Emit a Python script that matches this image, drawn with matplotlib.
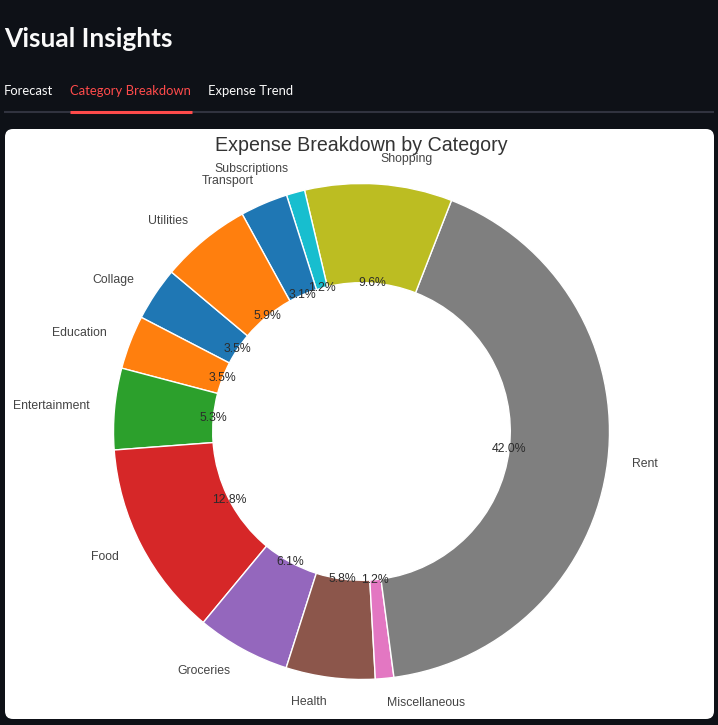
import matplotlib
matplotlib.use("Agg")
import matplotlib.pyplot as plt
from matplotlib.patches import FancyBboxPatch

categories = ["Collage", "Education", "Entertainment", "Food", "Groceries", "Health",
              "Miscellaneous", "Rent", "Shopping", "Subscriptions", "Transport", "Utilities"]
shares = [3.5, 3.5, 5.3, 12.8, 6.1, 5.8, 1.2, 42.0, 9.6, 1.2, 3.1, 5.9]
tabs = ["Forecast", "Category Breakdown", "Expense Trend"]

W, H = 718, 725
fig = plt.figure(figsize=(W / 100, H / 100), dpi=100, facecolor="#0e1117")

bg = fig.add_axes([0, 0, 1, 1])
bg.set_xlim(0, W)
bg.set_ylim(H, 0)
bg.axis("off")

hdr_font = ["Lato", "DejaVu Sans"]
bg.text(4, 47, "Visual Insights", color="#fafafa", fontsize=19.0, fontweight="bold",
        family=hdr_font, va="baseline", ha="left")
tab_x = [4, 70, 208]
for t, x in zip(tabs, tab_x):
    col = "#ff4b4b" if t == "Category Breakdown" else "#fafafa"
    bg.text(x, 95, t, color=col, fontsize=9.4, family=hdr_font, va="baseline", ha="left")
bg.plot([4, 714], [112, 112], color="#31333f", lw=1.5, solid_capstyle="butt")
bg.plot([70, 192], [111.5, 111.5], color="#ff4b4b", lw=2.2, solid_capstyle="butt")

card = FancyBboxPatch((5, 129), 709, 590, boxstyle="round,pad=0,rounding_size=8",
                      facecolor="white", edgecolor="none")
bg.add_patch(card)
bg.text(361.5, 145.5, "Expense Breakdown by Category", fontsize=14.1, color="#333333",
        family=["Liberation Sans", "DejaVu Sans"], ha="center", va="center")

# pie axes mapped to pixels
x0, x1, y0, y1 = 5, 714, 129, 719
cx, cy, R = 361.5, 431.5, 248.0
ax = fig.add_axes([x0 / W, 1 - y1 / H, (x1 - x0) / W, (y1 - y0) / H])
ax.patch.set_alpha(0)
colors = [plt.cm.tab10(i % 10) for i in range(len(categories))]
wedges, texts, autotexts = ax.pie(
    shares, labels=categories, autopct="%1.1f%%", startangle=140,
    colors=colors, pctdistance=0.6, labeldistance=1.1,
    wedgeprops=dict(width=0.4, edgecolor="white", linewidth=1),
    textprops=dict(fontsize=8.8, family=["Liberation Sans", "DejaVu Sans"]))
for t in texts:
    t.set_color("#444444")
for t in autotexts:
    t.set_color("#2b2b2b")
ax.set_aspect("auto")
ax.set_xlim((x0 - cx) / R, (x1 - cx) / R)
ax.set_ylim((cy - y1) / R, (cy - y0) / R)
ax.axis("off")

fig.savefig("out.png", dpi=100, facecolor=fig.get_facecolor())
